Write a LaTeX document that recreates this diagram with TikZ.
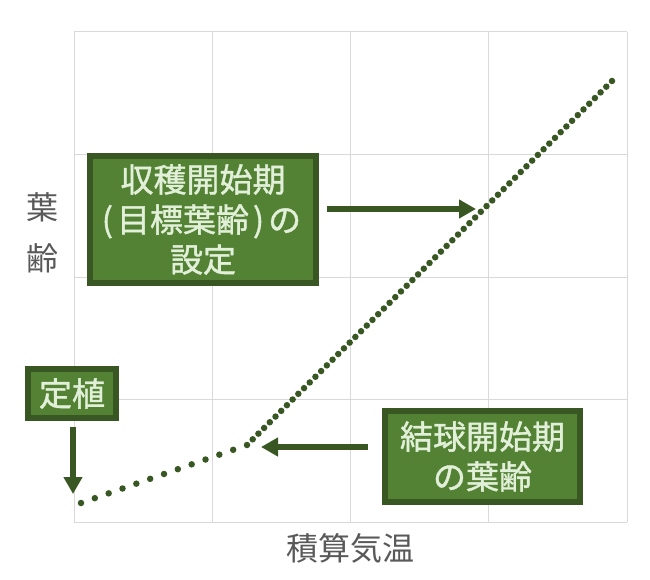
\documentclass[tikz,border=0pt]{standalone}
\usepackage{fontspec}
\setmainfont{Noto Sans CJK JP}
\newfontfamily\boxfont{Noto Sans CJK JP}[FakeBold=1.2]
\usepackage{tikz}
\usetikzlibrary{ arrows.meta, calc, positioning }
\definecolor{leafdark}{HTML}{385723}
\definecolor{leaffill}{HTML}{548235}
\definecolor{leaftext}{HTML}{E2F0D9}
\definecolor{gridgray}{HTML}{D9D9D9}
\definecolor{labelgray}{HTML}{595959}
\tikzset{
x=1pt, y=-1pt, % pixel-like coordinates, y grows downwards
stage/.style={draw=leafdark, fill=leaffill, line width=6pt, text=leaftext, align=center,
  font=\boxfont\fontsize{33}{40}\selectfont, inner sep=0pt}, % green label boxes
pointer/.style={draw=leafdark, line width=6pt, -{Triangle[length=17pt,width=18pt]}}, % thick arrows
growdot/.style={circle, fill=leafdark, inner sep=0pt, minimum size=6.5pt}, % dots of the curve
axislabel/.style={text=labelgray, font=\fontsize{32}{32}\selectfont, inner sep=0pt},
}
\begin{document}
\begin{tikzpicture}
  \useasboundingbox (0,0) rectangle (650,580);
  % grid
  \foreach \gx in {74,212.25,350.5,488.75,627}
    \draw[gridgray, line width=1pt] (\gx,32) -- (\gx,522);
  \foreach \gy in {32,154.5,277,399.5,522}
    \draw[gridgray, line width=1pt] (74,\gy) -- (627,\gy);
  % axis labels
  \node[axislabel] (ylab1) at (42,207) {葉};
  \node[axislabel] (ylab2) at (42,258) {齢};
  \node[axislabel] (xlab) at (350,548) {積算気温};
  % leaf age curve
  \coordinate (start) at (81,503);
  \coordinate (bend) at (247,445);
  \coordinate (finish) at (612,81);
  \foreach \i in {0,...,12}
    \node[growdot] at ($(start)!\i/12!(bend)$) {};
  \foreach \i in {1,...,64}
    \node[growdot] at ($(bend)!\i/64!(finish)$) {};
  % boxes
  \node[stage, minimum width=226pt, minimum height=127pt] (harvest) at (203,219.5)
    {収穫開始期\\\kern-3pt(\kern4pt目標葉齢\kern4pt)\kern4ptの\\設定};
  \node[stage, minimum width=88pt, minimum height=49pt] (plant) at (72,393.5) {定植};
  \node[stage, minimum width=195pt, minimum height=91pt] (heading) at (482.5,456.5)
    {結球開始期\\の葉齢};
  % arrows
  \coordinate (harvestpt) at (476,209);
  \coordinate (plantpt) at (73,494);
  \coordinate (headingpt) at (261,447);
  \draw[pointer, shorten <=8pt] (harvest.east |- harvestpt) -- (harvestpt);
  \draw[pointer, shorten <=6pt] (plant.south -| plantpt) -- (plantpt);
  \draw[pointer, shorten <=14pt] (heading.west |- headingpt) -- (headingpt);
\end{tikzpicture}
\end{document}
